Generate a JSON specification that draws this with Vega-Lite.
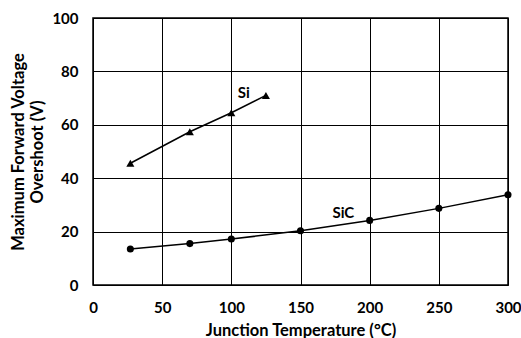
{
  "$schema": "https://vega.github.io/schema/vega-lite/v6.json",
  "autosize": "none",
  "width": 415,
  "height": 267,
  "padding": {"left": 93, "top": 18, "right": 13, "bottom": 53},
  "background": "white",
  "config": {
    "font": "Lato",
    "view": {"stroke": "black", "strokeWidth": 1.5},
    "axis": {
      "grid": true,
      "gridColor": "black",
      "gridOpacity": 1,
      "gridWidth": 1,
      "domain": false,
      "ticks": false,
      "labelFont": "Lato",
      "labelFontWeight": "bold",
      "labelFontSize": 15,
      "labelColor": "black",
      "titleFont": "Lato",
      "titleFontWeight": "bold",
      "titleFontSize": 16.5,
      "titleColor": "black",
      "titleLineHeight": 19
    }
  },
  "datasets": {
    "series": [
      {"material": "SiC", "temp": 27, "overshoot": 13.5},
      {"material": "SiC", "temp": 70, "overshoot": 15.5},
      {"material": "SiC", "temp": 100, "overshoot": 17.2},
      {"material": "SiC", "temp": 150, "overshoot": 20.3},
      {"material": "SiC", "temp": 200, "overshoot": 24.2},
      {"material": "SiC", "temp": 250, "overshoot": 28.7},
      {"material": "SiC", "temp": 300, "overshoot": 33.8},
      {"material": "Si", "temp": 27, "overshoot": 45.6},
      {"material": "Si", "temp": 70, "overshoot": 57.4},
      {"material": "Si", "temp": 100, "overshoot": 64.5},
      {"material": "Si", "temp": 125, "overshoot": 71}
    ],
    "labels": [
      {"name": "Si", "temp": 109, "overshoot": 72},
      {"name": "SiC", "temp": 181, "overshoot": 27}
    ]
  },
  "layer": [
    {
      "data": {"name": "series"},
      "mark": {"type": "line", "color": "black", "strokeWidth": 1.5},
      "encoding": {
        "x": {"field": "temp", "type": "quantitative", "scale": {"domain": [0, 300]},
              "axis": {"values": [0, 50, 100, 150, 200, 250, 300], "labelPadding": 15, "title": "Junction Temperature (°C)", "titlePadding": 7, "labelFlush": false}},
        "y": {"field": "overshoot", "type": "quantitative", "scale": {"domain": [0, 100]},
              "axis": {"values": [0, 20, 40, 60, 80, 100], "labelPadding": 15, "title": ["Maximum Forward Voltage", "Overshoot (V)"], "titlePadding": 6}},
        "detail": {"field": "material"}
      }
    },
    {
      "data": {"name": "series"},
      "transform": [{"filter": "datum.material === 'SiC'"}],
      "mark": {"type": "point", "shape": "circle", "filled": true, "color": "black", "size": 50, "opacity": 1},
      "encoding": {
        "x": {"field": "temp", "type": "quantitative"},
        "y": {"field": "overshoot", "type": "quantitative"}
      }
    },
    {
      "data": {"name": "series"},
      "transform": [{"filter": "datum.material === 'Si'"}],
      "mark": {"type": "point", "shape": "triangle-up", "filled": true, "color": "black", "size": 65, "opacity": 1},
      "encoding": {
        "x": {"field": "temp", "type": "quantitative"},
        "y": {"field": "overshoot", "type": "quantitative"}
      }
    },
    {
      "data": {"name": "labels"},
      "mark": {"type": "text", "font": "Lato", "fontWeight": "bold", "fontSize": 15, "color": "black"},
      "encoding": {
        "x": {"field": "temp", "type": "quantitative"},
        "y": {"field": "overshoot", "type": "quantitative"},
        "text": {"field": "name"}
      }
    }
  ]
}
